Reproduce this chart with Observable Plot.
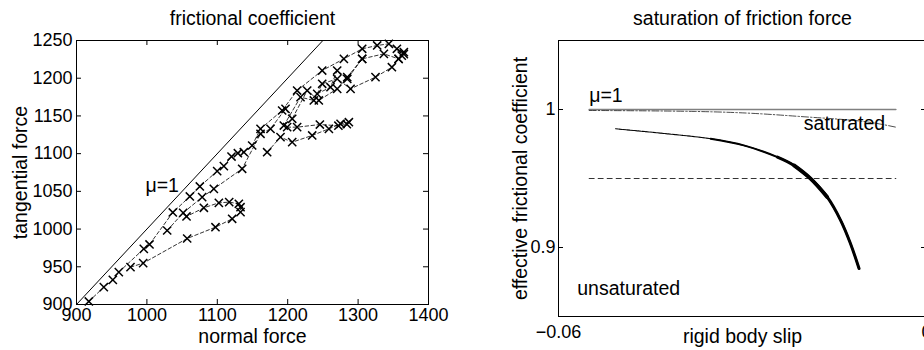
<!DOCTYPE html>
<html><head><meta charset="utf-8">
<script src="https://cdn.jsdelivr.net/npm/d3@7"></script>
<script src="https://cdn.jsdelivr.net/npm/@observablehq/plot@0.6"></script>
<style>
body{margin:0;background:#fff;}
#wrap{width:924px;height:350px;overflow:hidden;display:flex;background:#fff;}
#wrap svg{max-width:none;flex:none;}
</style></head><body><div id="wrap"></div>
<script>
// ---------- left panel data: [normal force, tangential force] ----------
const run1 = [[917.5,904],[938.8,923],[951.6,932.7],[960.1,942.9],[995.6,973.8],[1003.7,979.6],[1036.8,1022],[1061,1043.2],[1075.2,1056.5],[1099.8,1076.8],[1109.3,1083.4],[1120.2,1096.2],[1129.2,1100.6],[1137.7,1101.9],[1149.5,1110.8],[1161.4,1132.9],[1192.1,1157.2],[1213.4,1183.7],[1249,1210.2],[1279.8,1225.7],[1305.8,1239],[1327.1,1243.4],[1343.7,1245.6],[1355.1,1239],[1365,1234.5]];
const run2 = [[1028.8,998.1],[1051.5,1021.5],[1078.5,1042.3],[1095.1,1053.3],[1135.3,1079.9],[1161.4,1126.3],[1175.6,1132.9],[1196.9,1159.4],[1206.4,1146.2],[1227.7,1183.7],[1244.2,1170.5],[1270.3,1185.9],[1284.6,1201.4],[1305.8,1225.7],[1336.6,1232.3],[1357.5,1225.7],[1362,1230]];
const run3 = [[976.7,949.5],[994.7,954.8],[1057.2,987.5],[1097.4,1002.5],[1121.1,1013.6],[1133,1022.4],[1133,1029],[1130.6,1033.5],[1116.9,1035.7],[1102.2,1034.8],[1080.9,1028.2],[1056.3,1016.7]];
const run4 = [[1170.8,1101.9],[1189.8,1121.9],[1206.4,1115.2],[1234.8,1124.1],[1258.5,1132.9],[1275.1,1139.5],[1286.9,1141.7]];
const run5 = [[1199.2,1135.1],[1213.4,1135.1],[1245.7,1138.6],[1272,1137],[1284,1139]];
const run6 = [[1194.5,1137.3],[1218.2,1174.9],[1237.1,1170.5],[1249,1192.6],[1270.3,1199.2],[1289.3,1185.9],[1324.7,1201.4],[1348,1214.6],[1357.5,1225.7],[1365,1232]];
const run7 = [[1241.9,1179.3],[1260.8,1188.1],[1270.3,1210.2],[1284.6,1199],[1305.8,1225.7]];
const mu1Diag = [[900,900],[1250,1250]];
const normalTicks = [900,1000,1100,1200,1300,1400];
const tangTicks = [900,950,1000,1050,1100,1150,1200,1250];
const leftNotes = [{n:998,t:1049,label:"μ=1"}];

// ---------- right panel data ----------
const muSlip = [-0.055,-0.005];
const muCoef = [1,1];
const ddSlip = [-0.055,-0.0379,-0.0271,-0.0189,-0.0108,-0.005];
const ddCoef = [0.9993,0.9986,0.9969,0.9944,0.9916,0.9872];
const dashSlip = [-0.055,-0.005];
const dashCoef = [0.95,0.95];
const curveSlip = [-0.0507,-0.0434,-0.0352,-0.0298,-0.0243,-0.0216,-0.0189,-0.0162,-0.0140,-0.0124,-0.0110];
const curveCoef = [0.9860,0.9829,0.9788,0.9740,0.9655,0.9595,0.9499,0.9366,0.9197,0.9029,0.8848];
const slipTicks = [-0.06,0];
const slipTickLabels = ["−0.06","0"];
const coefTicks = [0.9,1];
const coefTickLabels = ["0.9","1"];
const rightNotes = [{s:-0.055,c:1.0053,label:"μ=1"},{s:-0.02,c:0.9848,label:"saturated"},{s:-0.05695,c:0.8655,label:"unsaturated"}];

const FONT = "'Liberation Sans', Arial, Helvetica, sans-serif";
const LBL = 19.5;

const runs = [run1,run2,run3,run4,run5,run6,run7];
const forceData = runs.flatMap((r,i)=>r.map(([n,t])=>({run:i,n,t})));

const L = {w:460,h:350,ml:76,mr:32,mt:40,mb:46};
const LiW = L.w-L.ml-L.mr, LiH = L.h-L.mt-L.mb;
const left = Plot.plot({
  width:L.w,height:L.h,marginLeft:L.ml,marginRight:L.mr,marginTop:L.mt,marginBottom:L.mb,
  style:{fontFamily:FONT,fontSize:"18px",background:"white",color:"black",overflow:"visible"},
  x:{domain:[900,1400]},y:{domain:[900,1250]},
  marks:[
    Plot.line(mu1Diag,{stroke:"black",strokeWidth:1}),
    Plot.line(forceData,{x:"n",y:"t",z:"run",stroke:"black",strokeWidth:0.8,strokeDasharray:"3.5,2.5"}),
    Plot.dot(forceData,{x:"n",y:"t",symbol:"times",r:3.8,stroke:"black",strokeWidth:1.5}),
    Plot.frame({stroke:"black",strokeWidth:1}),
    Plot.ruleX(normalTicks,{x:d=>d,insetTop:LiH-5}),
    Plot.ruleX(normalTicks,{x:d=>d,insetBottom:LiH-5}),
    Plot.ruleY(tangTicks,{y:d=>d,insetRight:LiW-5}),
    Plot.ruleY(tangTicks,{y:d=>d,insetLeft:LiW-5}),
    Plot.axisX(normalTicks,{tickSize:0,tickPadding:4,label:null,tickFormat:d=>String(d),fontSize:18}),
    Plot.axisY(tangTicks,{tickSize:0,tickPadding:4,label:null,tickFormat:d=>String(d),fontSize:18}),
    Plot.text(leftNotes,{x:"n",y:"t",text:"label",textAnchor:"start",lineAnchor:"bottom",fontSize:LBL}),
    Plot.text(["frictional coefficient"],{frameAnchor:"top",lineAnchor:"bottom",dy:-16,fontSize:LBL}),
    Plot.text(["normal force"],{frameAnchor:"bottom",lineAnchor:"bottom",dy:38,fontSize:LBL}),
    Plot.text(["tangential force"],{frameAnchor:"left",textAnchor:"middle",rotate:-90,dx:-56,fontSize:LBL})
  ]
});

const R = {w:480,h:350,ml:98,mr:14,mt:40,mb:34};
const RiW = R.w-R.ml-R.mr, RiH = R.h-R.mt-R.mb;
const pairs = (xs,ys)=>xs.map((x,i)=>({s:x,c:ys[i],i}));
const curve = pairs(curveSlip,curveCoef);
const right = Plot.plot({
  width:R.w,height:R.h,marginLeft:R.ml,marginRight:R.mr,marginTop:R.mt,marginBottom:R.mb,
  style:{fontFamily:FONT,fontSize:"18px",background:"white",color:"black",overflow:"visible"},
  x:{domain:[-0.06,0]},y:{domain:[0.85,1.05]},
  marks:[
    Plot.line(pairs(muSlip,muCoef),{x:"s",y:"c",stroke:"#808080",strokeWidth:1.6}),
    Plot.line(pairs(ddSlip,ddCoef),{x:"s",y:"c",stroke:"black",strokeWidth:0.7,strokeDasharray:"7,2,1.5,2",curve:"natural"}),
    Plot.line(pairs(dashSlip,dashCoef),{x:"s",y:"c",stroke:"black",strokeWidth:0.8,strokeDasharray:"5,4"}),
    Plot.line(curve,{x:"s",y:"c",stroke:"black",strokeWidth:1.1,strokeDasharray:"3,0.8",curve:"catmull-rom"}),
    Plot.line(curve.filter(d=>d.i>=2),{x:"s",y:"c",stroke:"black",strokeWidth:2,curve:"catmull-rom"}),
    Plot.line(curve.filter(d=>d.i>=4),{x:"s",y:"c",stroke:"black",strokeWidth:3,curve:"catmull-rom"}),
    Plot.line(curve.filter(d=>d.i>=5 && d.i<=7),{x:"s",y:"c",stroke:"black",strokeWidth:3.8,curve:"catmull-rom"}),
    Plot.frame({stroke:"black",strokeWidth:1}),
    Plot.ruleY(coefTicks,{y:d=>d,insetRight:RiW-5}),
    Plot.ruleY(coefTicks,{y:d=>d,insetLeft:RiW-5}),
    Plot.axisX(slipTicks,{tickSize:0,tickPadding:9,label:null,tickFormat:(d,i)=>slipTickLabels[i],fontSize:18}),
    Plot.axisY(coefTicks,{tickSize:0,tickPadding:3,label:null,tickFormat:(d,i)=>coefTickLabels[i],fontSize:18}),
    Plot.text(rightNotes,{x:"s",y:"c",text:"label",textAnchor:"start",lineAnchor:"bottom",fontSize:LBL}),
    Plot.text(["saturation of friction force"],{frameAnchor:"top",lineAnchor:"bottom",dy:-16,fontSize:LBL}),
    Plot.text(["rigid body slip"],{frameAnchor:"bottom",lineAnchor:"bottom",dy:26,fontSize:LBL}),
    Plot.text(["effective frictional coefficient"],{frameAnchor:"left",textAnchor:"middle",rotate:-90,dx:-38,fontSize:LBL})
  ]
});

document.getElementById("wrap").append(left,right);
</script></body></html>
